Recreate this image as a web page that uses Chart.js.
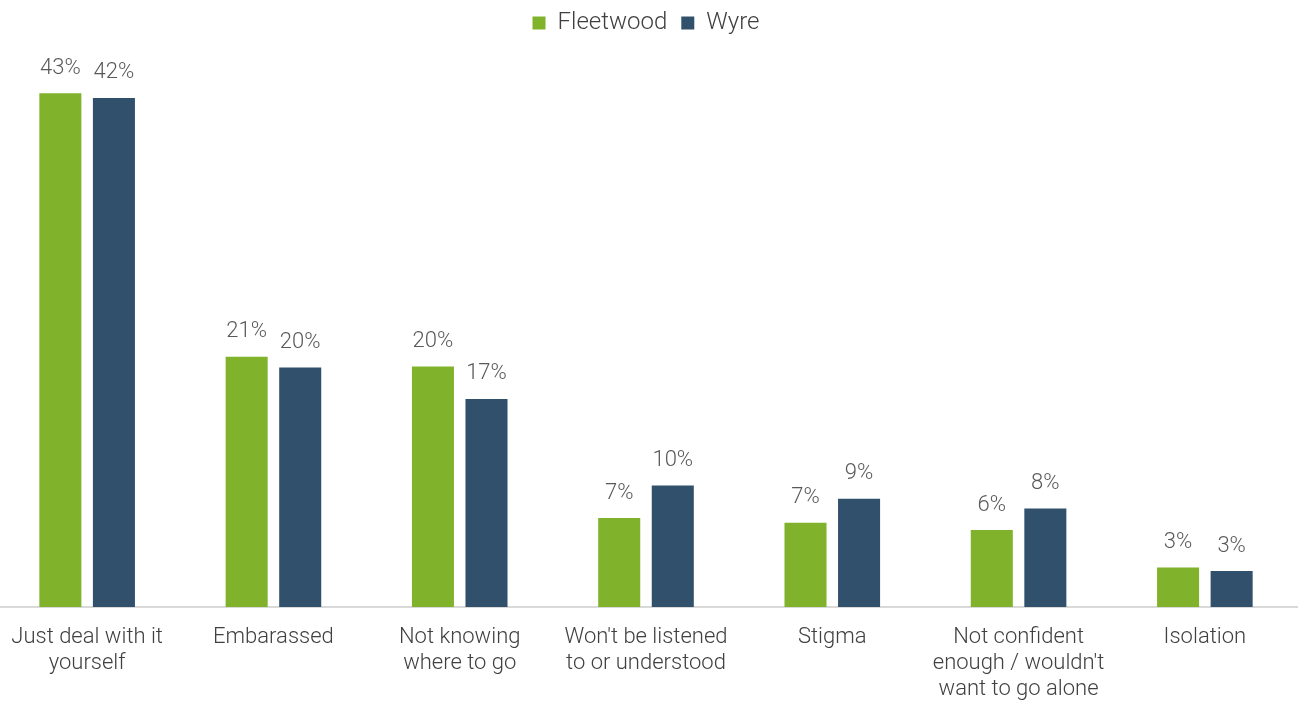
<!DOCTYPE html>
<html>
<head>
<meta charset="utf-8">
<script src="https://cdn.jsdelivr.net/npm/chart.js@4"></script>
<style>
	html, body { margin: 0; padding: 0; background: #fff; overflow: hidden; }
	#wrap { position: relative; width: 1300px; height: 702px; }
	#barriersChart { position: absolute; left: -6px; top: 0; }
</style>
</head>
<body>
<div id="wrap">
	<canvas id="barriersChart" width="1304" height="702"></canvas>
</div>
<script>
// Причины (категории по оси X)
const categories = [
	['Just deal with it', 'yourself'],
	['Embarassed'],
	['Not knowing', 'where to go'],
	["Won't be listened", 'to or understood'],
	['Stigma'],
	['Not confident', "enough / wouldn't", 'want to go alone'],
	['Isolation'],
]

// Значения по районам, %
const fleetwood = [42.7, 20.8, 20.0, 7.4, 7.0, 6.4, 3.3]
const wyre = [42.3, 19.9, 17.3, 10.1, 9.0, 8.2, 3.0]

const seriesNames = ['Fleetwood', 'Wyre']

const FONT = 'Roboto'

// подписи значений над столбцами
const valueLabels = {
	id: 'valueLabels',
	afterDatasetsDraw(chart) {
		const ctx = chart.ctx
		ctx.save()
		ctx.font = '300 22px ' + FONT
		ctx.fillStyle = '#595959'
		ctx.textAlign = 'center'
		ctx.textBaseline = 'middle'
		chart.data.datasets.forEach((ds, i) => {
			chart.getDatasetMeta(i).data.forEach((bar, j) => {
				ctx.fillText(Math.round(ds.data[j]) + '%', bar.x, bar.y - 25)
			})
		})
		ctx.restore()
	},
}

const ctx = document.getElementById('barriersChart').getContext('2d')
const barriersChart = new Chart(ctx, {
	type: 'bar',
	data: {
		labels: categories,
		datasets: [
			{
				label: seriesNames[0],
				data: fleetwood,
				backgroundColor: '#80b32b',
				categoryPercentage: 0.575,
				barPercentage: 0.785,
			},
			{
				label: seriesNames[1],
				data: wyre,
				backgroundColor: '#31506b',
				categoryPercentage: 0.575,
				barPercentage: 0.785,
			},
		],
	},
	options: {
		responsive: false,
		animation: false,
		layout: { padding: { top: -3, bottom: -9, left: 0, right: 0 } },
		plugins: {
			legend: {
				position: 'top',
				labels: {
					boxWidth: 13,
					boxHeight: 13,
					padding: 14,
					color: '#404040',
					font: { family: FONT, size: 24, weight: '300' },
				},
			},
			tooltip: { enabled: false },
		},
		scales: {
			x: {
				grid: { display: false },
				border: { display: true, color: '#d9d9d9', width: 2 },
				ticks: {
					color: '#404040',
					autoSkip: false,
					maxRotation: 0,
					padding: 9,
					font: { family: FONT, size: 22, weight: '300', lineHeight: 1.18 },
				},
			},
			y: {
				display: false,
				min: 0,
				max: 46.7,
			},
		},
	},
	plugins: [valueLabels],
})
</script>
</body>
</html>
